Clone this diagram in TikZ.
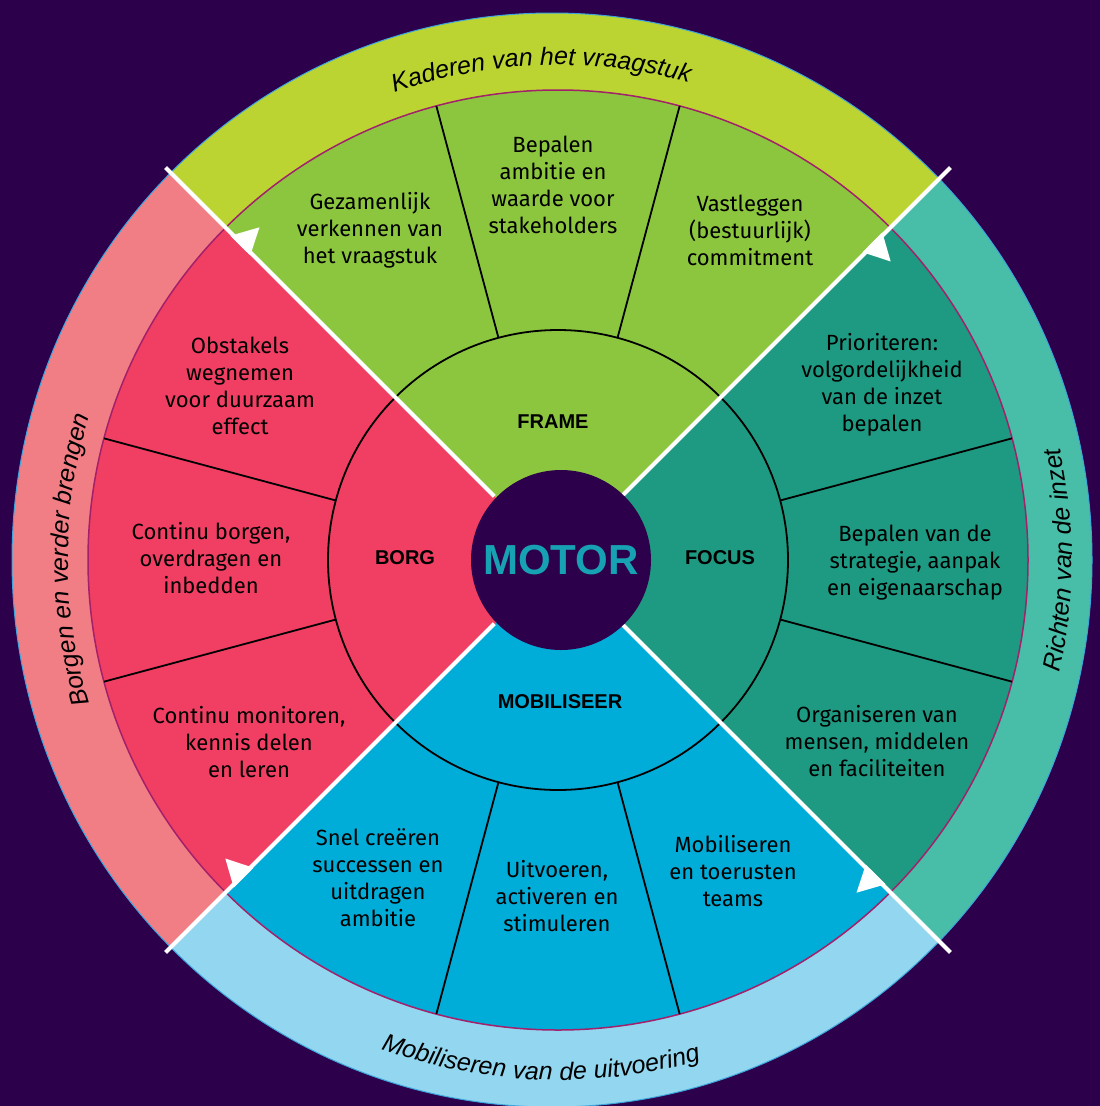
\documentclass[tikz,border=0pt]{standalone}
\usepackage{fontspec}
\setmainfont{Fira Sans}
\newfontfamily\arialf{Liberation Sans}
\usetikzlibrary{decorations.text,calc}
\definecolor{bgc}{HTML}{2D004B}
\definecolor{bandF}{HTML}{BBD432}
\definecolor{mainF}{HTML}{8CC63F}
\definecolor{bandR}{HTML}{48BEA8}
\definecolor{mainR}{HTML}{1F9A82}
\definecolor{bandM}{HTML}{92D7EF}
\definecolor{mainM}{HTML}{00ACD8}
\definecolor{bandB}{HTML}{F27E85}
\definecolor{mainB}{HTML}{F03F62}
\definecolor{motorc}{HTML}{17A2B4}
\definecolor{magl}{HTML}{A3206B}
\definecolor{edgel}{HTML}{3DA5DC}
\newcommand\bandfont{\arialf\itshape\fontsize{25}{30}\selectfont}
\tikzset{
  qtext/.style={align=center, font=\fontsize{22}{27}\selectfont, text=black, inner sep=0pt},
  qlabel/.style={font=\arialf\bfseries\fontsize{20}{24}\selectfont, text=black, inner sep=0pt},
  subline/.style={black, line width=1.8pt},
  ringline/.style={black, line width=1.8pt},
  divline/.style={white, line width=4pt},
  magline/.style={magl, line width=1.5pt},
  edgeline/.style={edgel, line width=1pt},
  motorbox/.style={circle, fill=bgc, minimum size=180pt, inner sep=0pt, text=motorc, font=\arialf\bfseries\fontsize{42}{42}\selectfont}
}
\begin{document}
\begin{tikzpicture}[x=1pt,y=1pt]
\useasboundingbox (0,0) rectangle (1100,-1106);
\fill[bgc] (0,0) rectangle (1100,-1106);
\coordinate (C) at (558,-560);
\coordinate (E) at (552,-560);
% outer band, clipped to the slightly oval outer edge
\begin{scope}
  \clip (E) ellipse [x radius=540, y radius=547];
  \foreach \a/\bc in {90/bandF, 0/bandR, 270/bandM, 180/bandB}
    \fill[\bc] (C) -- +({\a-45}:620) arc[start angle={\a-45}, end angle={\a+45}, radius=620] -- cycle;
\end{scope}
\draw[edgeline] (E) ellipse [x radius=540, y radius=547];
% main quadrants
\foreach \a/\mc in {90/mainF, 0/mainR, 270/mainM, 180/mainB}
  \fill[\mc] (C) -- +({\a-45}:470) arc[start angle={\a-45}, end angle={\a+45}, radius=470] -- cycle;
\draw[magline] (C) circle[radius=470];
\foreach \a in {15,75,105,165,195,255,285,345}
  \draw[subline] ($(C)+(\a:230)$) -- ($(C)+(\a:470)$);
\draw[ringline] (C) circle[radius=230];
\foreach \a in {45,135,225,315}
  \draw[divline] ($(C)+(\a:90)$) -- ($(C)+(\a:555)$);
\foreach \a in {45,135,225,315}
  \fill[white] ($(C)+({\a-3.1}:447)$) -- ($(C)+({\a+0.3}:433)$) -- ($(C)+({\a+0.3}:461)$) -- cycle;
\node[motorbox] (motor) at (561,-560) {MOTOR};
% band labels
\path[decorate, decoration={text along path, text align=center, text={|\bandfont|Kaderen van het vraagstuk}}]
  ($(C)+(132:495)$) arc[start angle=132, end angle=52, radius=495];
\path[decorate, decoration={text along path, text align=center, text={|\bandfont|Richten van de inzet}}]
  ($(C)+(-40:514)$) arc[start angle=-40, end angle=40, radius=514];
\path[decorate, decoration={text along path, text align=center, text={|\bandfont|Mobiliseren van de uitvoering}}]
  ($(C)+(223:520)$) arc[start angle=223, end angle=313, radius=520];
\path[decorate, decoration={text along path, text align=center, text={|\bandfont|Borgen en verder brengen}}]
  ($(C)+(220:490)$) arc[start angle=220, end angle=140, radius=490];
% quadrant labels
\node[qlabel] (frame) at (553,-422) {FRAME};
\node[qlabel] (focus) at (720,-558) {FOCUS};
\node[qlabel] (mob) at (560,-702) {MOBILISEER};
\node[qlabel] (borg) at (405,-558) {BORG};
% frame texts
\node[qtext] (f1) at (370,-230) {Gezamenlijk\\verkennen van\\het vraagstuk};
\node[qtext] (f2) at (553,-185) {Bepalen\\ambitie en\\waarde voor\\stakeholders};
\node[qtext] (f3) at (750,-230) {Vastleggen\\(bestuurlijk)\\commitment};
% focus texts
\node[qtext] (r1) at (882,-385) {Prioriteren:\\volgordelijkheid\\van de inzet\\bepalen};
\node[qtext] (r2) at (915,-563) {Bepalen van de\\strategie, aanpak\\en eigenaarschap};
\node[qtext] (r3) at (877,-741) {Organiseren van\\mensen, middelen\\en faciliteiten};
% mobiliseer texts
\node[qtext] (m1) at (378,-878) {Snel creëren\\successen en\\uitdragen\\ambitie};
\node[qtext] (m2) at (557,-896) {Uitvoeren,\\activeren en\\stimuleren};
\node[qtext] (m3) at (733,-871) {Mobiliseren\\en toerusten\\teams};
% borg texts
\node[qtext] (b1) at (240,-386) {Obstakels\\wegnemen\\voor duurzaam\\effect};
\node[qtext] (b2) at (211,-558) {Continu borgen,\\overdragen en\\inbedden};
\node[qtext] (b3) at (249,-742) {Continu monitoren,\\kennis delen\\en leren};
\end{tikzpicture}
\end{document}
